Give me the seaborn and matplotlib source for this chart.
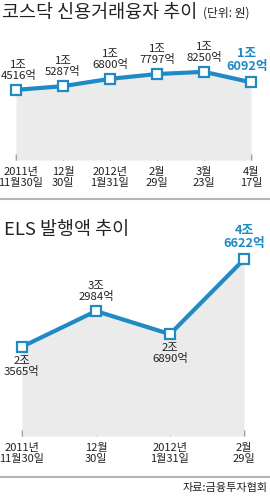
import matplotlib
matplotlib.use("Agg")
import matplotlib.pyplot as plt
import matplotlib.transforms as mtransforms
import seaborn as sns
import numpy as np

# ---- data ----
top_dates = ["2011년\n11월30일", "12월\n30일", "2012년\n1월31일", "2월\n29일", "3월\n23일", "4월\n17일"]
top_values = [14516, 15287, 16800, 17797, 18250, 16092]  # 억 원
top_labels = ["1조\n4516억", "1조\n5287억", "1조\n6800억", "1조\n7797억", "1조\n8250억", "1조\n6092억"]

els_dates = ["2011년\n11월30일", "12월\n30일", "2012년\n1월31일", "2월\n29일"]
els_values = [23565, 32984, 26890, 46622]  # 억 원
els_labels = ["2조\n3565억", "3조\n2984억", "2조\n6890억", "4조\n6622억"]
els_label_pos = ["below", "above", "below", "above"]

title_top = "코스닥 신용거래융자 추이"
unit_top = "(단위: 원)"
title_els = "ELS 발행액 추이"
source = "자료:금융투자협회"

# ---- style ----
sns.set_style("white")
plt.rcParams["font.family"] = ["Noto Sans CJK KR", "DejaVu Sans"]

BLUE = "#1f8ac4"
GRAY_FILL = "#ebebeb"
TXT = "#222222"

W, H = 270, 496
fig = plt.figure(figsize=(W / 100, H / 100), dpi=100)
fig.patch.set_facecolor("white")


def add_ax(top_px, bottom_px):
    return fig.add_axes([0, (H - bottom_px) / H, 1, (bottom_px - top_px) / H])


def px2pt(p):
    return p * 0.72


def draw_panel(ax, values, dates, labels, x0px, step_px, top_px, bottom_px, per_px, pos,
               first_tick_shift=0, first_label_shift=0, last_label_shift=0):
    n = len(values)
    xs = np.arange(n)
    ax.set_xlim(-x0px / step_px, (W - x0px) / step_px)
    ax.set_ylim(0, (bottom_px - top_px) * per_px)
    ax.fill_between(xs, 0, values, color=GRAY_FILL, lw=0, zorder=1)
    sns.lineplot(x=xs, y=values, ax=ax, color=BLUE, lw=3.0, marker="s",
                 markersize=7.5, markerfacecolor="white", markeredgecolor=BLUE,
                 markeredgewidth=1.6, zorder=3, clip_on=False)
    for sp in ax.spines.values():
        sp.set_visible(False)
    ax.set_facecolor("none")
    ax.set_yticks([])
    ax.set_xticks(xs, dates)
    ax.tick_params(axis="x", direction="in", length=px2pt(6), width=1, color="#555555",
                   pad=px2pt(7), labelsize=8.0, labelcolor=TXT, bottom=True)
    for k, t in enumerate(ax.get_xticklabels()):
        t.set_linespacing(1.15)
        if k == 0 and first_tick_shift:
            t.set_transform(t.get_transform() + mtransforms.ScaledTranslation(
                first_tick_shift / 100, 0, fig.dpi_scale_trans))
    for i, (v, lab) in enumerate(zip(values, labels)):
        last = i == n - 1
        p = pos[i]
        dy = px2pt(9) if p == "above" else -px2pt(9)
        if last:
            dx = px2pt(last_label_shift)
        elif i == 0:
            dx = px2pt(first_label_shift)
        else:
            dx = 0
        ax.annotate(lab, (xs[i], v), xytext=(dx, dy), textcoords="offset points",
                    ha="center", va="bottom" if p == "above" else "top",
                    fontsize=9.2 if last else 8.2,
                    fontweight="bold" if last else "normal",
                    color=BLUE if last else TXT, linespacing=1.0,
                    annotation_clip=False, zorder=4)


# top panel
ax1 = add_ax(30, 160)
draw_panel(ax1, top_values, top_dates, top_labels, 16, 47, 30, 160, 207,
           ["above"] * len(top_values), first_tick_shift=5, first_label_shift=2.5,
           last_label_shift=-4)

# ELS panel
ax2 = add_ax(240, 436)
draw_panel(ax2, els_values, els_dates, els_labels, 22, 74, 240, 436, 264, els_label_pos)

# titles
fig.text(2 / W, 1 - 13 / H, title_top, fontsize=13.3, fontweight="medium",
         color=TXT, va="center", ha="left")
fig.text(203 / W, 1 - 13 / H, unit_top, fontsize=8.5, color=TXT, va="center", ha="left")
fig.text(4 / W, 1 - 230 / H, title_els, fontsize=13.3, fontweight="medium",
         color=TXT, va="center", ha="left")
fig.text(268 / W, 1 - 488 / H, source, fontsize=8.0, color=TXT, va="center", ha="right")

# separators
for ypx in (199, 477):
    fig.add_artist(plt.Line2D([0, 1], [1 - ypx / H] * 2, color="#b5b5b5", lw=1.5,
                              transform=fig.transFigure))

fig.savefig("out.png", dpi=100, facecolor="white")
